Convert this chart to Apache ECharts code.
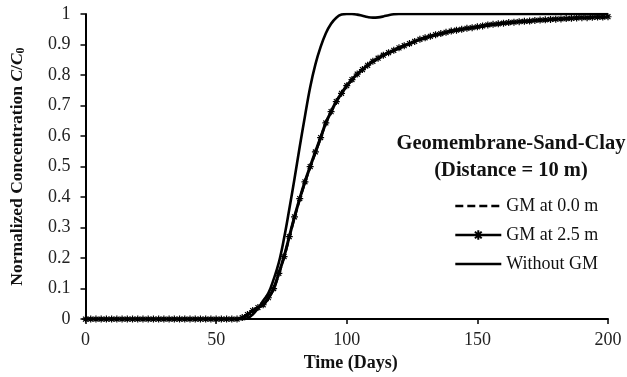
<!DOCTYPE html>
<html>
<head>
<meta charset="utf-8">
<script src="https://cdn.jsdelivr.net/npm/echarts@6/dist/echarts.min.js"></script>
<style>
html,body{margin:0;padding:0;background:#fff;}
#chart{width:627px;height:377px;}
</style>
</head>
<body>
<div id="chart"></div>
<script>
var days = [0,2,4,6,8,10,12,14,16,18,20,22,24,26,28,30,32,34,36,38,40,42,44,46,48,50,52,54,56,58,
  60,62,64,66,68,70,72,74,76,78,80,82,84,86,88,90,92,94,96,98,100,102,104,106,108,110,112,114,116,118,
  120,122,124,126,128,130,132,134,136,138,140,142,144,146,148,150,152,154,156,158,160,162,164,166,168,170,
  172,174,176,178,180,182,184,186,188,190,192,194,196,198,200];

// GM at 0.0 m (dashed, mostly hidden under the 2.5 m curve)
var gm00 = [0,0,0,0,0,0,0,0,0,0,0,0,0,0,0,0,0,0,0,0,0,0,0,0,0,0,0,0,0,0,
  0.005,0.015,0.027,0.037,0.046,0.068,0.098,0.148,0.203,0.268,0.333,0.393,0.448,0.498,0.546,0.593,0.643,0.678,0.713,0.739,
  0.764,0.784,0.802,0.817,0.831,0.844,0.854,0.864,0.872,0.880,0.888,0.895,0.902,0.909,0.916,0.921,0.926,0.931,0.935,0.939,
  0.943,0.946,0.949,0.952,0.955,0.958,0.961,0.963,0.965,0.967,0.969,0.971,0.973,0.975,0.976,0.977,0.979,0.980,0.981,0.982,
  0.983,0.984,0.985,0.986,0.987,0.988,0.988,0.989,0.990,0.990,0.991];

// GM at 2.5 m
var gm25 = [0,0,0,0,0,0,0,0,0,0,0,0,0,0,0,0,0,0,0,0,0,0,0,0,0,0,0,0,0,0,
  0.005,0.015,0.028,0.038,0.047,0.07,0.1,0.15,0.205,0.27,0.335,0.395,0.45,0.5,0.548,0.595,0.643,0.68,0.713,0.74,
  0.765,0.785,0.803,0.818,0.832,0.845,0.855,0.865,0.873,0.881,0.889,0.896,0.903,0.91,0.917,0.922,0.927,0.932,0.936,0.94,
  0.944,0.947,0.95,0.953,0.955,0.958,0.961,0.964,0.966,0.968,0.97,0.972,0.973,0.975,0.976,0.977,0.979,0.98,0.981,0.982,
  0.983,0.984,0.985,0.986,0.987,0.988,0.988,0.989,0.99,0.99,0.991];

// Without GM
var noGM = [0,0,0,0,0,0,0,0,0,0,0,0,0,0,0,0,0,0,0,0,0,0,0,0,0,0,0,0,0,0,
  0,0.003,0.015,0.035,0.06,0.085,0.13,0.185,0.265,0.36,0.46,0.565,0.665,0.76,0.835,0.892,0.937,0.968,0.988,0.998,
  1,1,0.998,0.994,0.99,0.988,0.989,0.992,0.996,0.999,1,1,1,1,1,1,1,1,1,1,
  1,1,1,1,1,1,1,1,1,1,1,1,1,1,1,1,1,1,1,1,
  1,1,1,1,1,1,1,1,1,1,1];

var seriesNames = ['GM at 0.0 m', 'GM at 2.5 m', 'Without GM'];
var titleLines = ['Geomembrane-Sand-Clay', '(Distance = 10 m)'];

function pairs(arr){
    return days.map(function(d, i){ return [d, arr[i]]; });
}

var font = '"Liberation Serif", "Times New Roman", serif';
var asterisk = 'path://M0,5L10,5M5,0L5,10M1.5,1.5L8.5,8.5M8.5,1.5L1.5,8.5';

var chart = echarts.init(document.getElementById('chart'), null, {renderer: 'canvas'});

var option = {
    animation: false,
    backgroundColor: '#fff',
    textStyle: { fontFamily: font },
    grid: { left: 82, right: 19, top: 14, bottom: 57, containLabel: false },
    title: {
        text: titleLines.join('\n'),
        left: 506,
        top: 125,
        textAlign: 'center',
        textStyle: { fontFamily: font, fontSize: 20.5, fontWeight: 'bold', color: '#111', lineHeight: 27 }
    },
    legend: {
        orient: 'vertical',
        left: 449,
        top: 192,
        itemWidth: 46,
        itemHeight: 12,
        itemGap: 11,
        lineStyle: { width: 2.6 },
        data: [
            { name: seriesNames[0], itemStyle: { opacity: 0 } },
            { name: seriesNames[1] },
            { name: seriesNames[2], itemStyle: { opacity: 0 } }
        ],
        textStyle: { fontFamily: font, fontSize: 18, color: '#111' }
    },
    xAxis: {
        type: 'value',
        min: 0, max: 200, interval: 50,
        name: 'Time (Days)',
        nameLocation: 'middle',
        nameGap: 26,
        nameTextStyle: { fontFamily: font, fontSize: 18, fontWeight: 'bold', color: '#111', padding: [0, 0, 0, 8] },
        axisLine: { lineStyle: { color: '#000', width: 2 } },
        axisTick: { show: true, length: 5, lineStyle: { color: '#000', width: 1.5 } },
        axisLabel: { fontFamily: font, fontSize: 18, color: '#222', margin: 12 },
        splitLine: { show: false }
    },
    yAxis: {
        type: 'value',
        min: 0, max: 1, interval: 0.1,
        name: 'Normalized Concentration {i|C}/{i|C}{sub|0}',
        nameLocation: 'middle',
        nameGap: 59,
        nameRotate: 90,
        nameTextStyle: {
            fontFamily: font, fontSize: 17.5, fontWeight: 'bold', color: '#111',
            rich: {
                i: { fontFamily: font, fontSize: 17.5, fontWeight: 'bold', fontStyle: 'italic', color: '#111' },
                sub: { fontFamily: font, fontSize: 12, fontWeight: 'bold', color: '#111', verticalAlign: 'bottom', padding: [7, 0, 0, 0] }
            }
        },
        axisLine: { show: true, lineStyle: { color: '#000', width: 2 } },
        axisTick: { show: true, length: 5, lineStyle: { color: '#000', width: 1.5 } },
        axisLabel: { fontFamily: font, fontSize: 18, color: '#222', margin: 15 },
        splitLine: { show: false }
    },
    series: [
        {
            name: seriesNames[2],
            type: 'line',
            data: pairs(noGM),
            symbol: 'none',
            smooth: 0.4,
            lineStyle: { color: '#000', width: 2.6 },
            itemStyle: { color: '#000' },
            z: 2
        },
        {
            name: seriesNames[0],
            type: 'line',
            data: pairs(gm00),
            symbol: 'none',
            smooth: 0.4,
            lineStyle: { color: '#000', width: 2.6, type: [8, 4] },
            itemStyle: { color: '#000' },
            z: 3
        },
        {
            name: seriesNames[1],
            type: 'line',
            data: pairs(gm25),
            symbol: asterisk,
            symbolSize: 7,
            showAllSymbol: true,
            smooth: 0.4,
            clip: false,
            lineStyle: { color: '#000', width: 3 },
            itemStyle: { color: '#000', borderColor: '#000', borderWidth: 1.2 },
            z: 4
        }
    ]
};
chart.setOption(option);
</script>
</body>
</html>
